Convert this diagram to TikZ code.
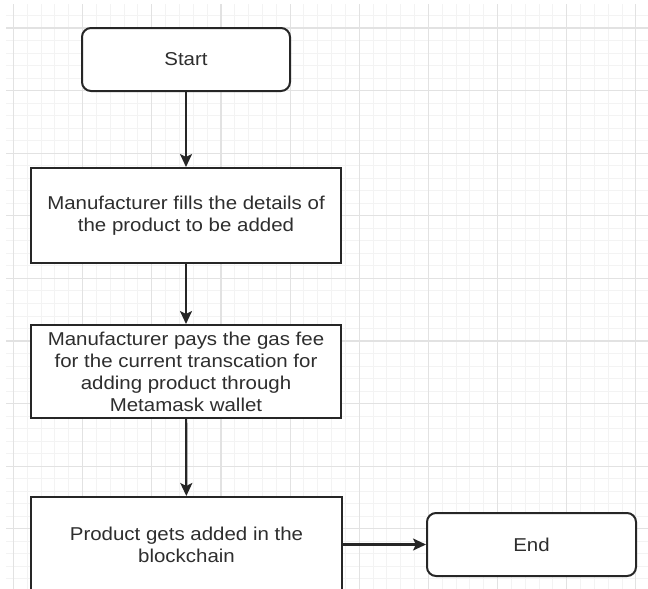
\documentclass[tikz,border=0pt]{standalone}
\usepackage{fontspec}
\setmainfont{Liberation Sans}[FakeStretch=1.1]
\usetikzlibrary{arrows.meta}
\definecolor{ink}{HTML}{262626}
\definecolor{txt}{HTML}{2E2E2E}
\definecolor{gmin}{HTML}{F3F3F3}
\definecolor{gmaj}{HTML}{E2E2E2}
\tikzset{
  box/.style={draw=ink, fill=white, line width=2pt, align=center, text=txt,
    inner sep=0pt, font=\fontsize{18.6}{22}\selectfont},
  termbox/.style={box, rounded corners=9pt},
  conn/.style={draw=ink, line width=2.2pt, -{Stealth[length=13pt,width=12pt,inset=3pt]}}
}
\begin{document}
\begin{tikzpicture}[x=1pt,y=-1pt]
\useasboundingbox (0,0) rectangle (648,589);
\fill[white] (0,0) rectangle (648,589);
\begin{scope}
\clip (6,4) rectangle (648,589);
\foreach \i in {0,...,46} {
  \pgfmathtruncatemacro{\r}{mod(\i,5)}
  \ifnum\r>0 \fill[gmin] ({13.5+\i*13.83-0.5},0) rectangle ({13.5+\i*13.83+0.5},589); \fi }
\foreach \j in {0,...,47} {
  \pgfmathtruncatemacro{\r}{mod(\j+3,5)}
  \ifnum\r>0 \fill[gmin] (0,{3+\j*12.52-0.5}) rectangle (648,{3+\j*12.52+0.5}); \fi }
\foreach \i in {0,...,9} { \fill[gmaj] ({13.5+\i*69.15-0.6},0) rectangle ({13.5+\i*69.15+0.6},589); }
\foreach \j in {0,...,9} { \fill[gmaj] (0,{28+\j*62.6-0.6}) rectangle (648,{28+\j*62.6+0.6}); }
\end{scope}
\begin{scope}
\clip (0,0) rectangle (648,589);
\node[termbox, minimum width=208pt, minimum height=63pt] (start) at (186,59.5) {Start};
\node[box, minimum width=310pt, minimum height=95pt] (fill) at (186,215.5)
  {Manufacturer fills the details of\\the product to be added};
\node[box, minimum width=310pt, minimum height=93pt] (pay) at (186,371.5)
  {Manufacturer pays the gas fee\\for the current transcation for\\adding product through\\Metamask wallet};
\node[box, minimum width=311pt, minimum height=96pt] (added) at (186.5,545)
  {Product gets added in the\\blockchain};
\node[termbox, minimum width=209pt, minimum height=63pt] (end) at (531.5,544.5) {End};
\draw[conn] (start) -- (fill);
\draw[conn] (fill) -- (pay);
\draw[conn] (pay) -- (added);
\draw[conn] (added.east |- end.west) -- (end.west);
\end{scope}
\end{tikzpicture}
\end{document}
